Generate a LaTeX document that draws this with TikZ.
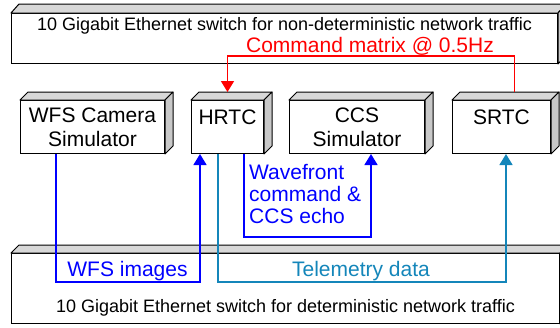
\documentclass[tikz,border=0pt]{standalone}
\usepackage{fontspec}
\setmainfont{Liberation Sans}
\usetikzlibrary{arrows.meta,calc}
\definecolor{tealline}{RGB}{20,134,186}
\definecolor{topgray}{RGB}{216,216,216}
\definecolor{sidegray}{RGB}{200,200,200}
\newcommand\boxdepth[3]{%
  \filldraw[fill=topgray, line width=1pt, line join=round] (#1.north west) -- ++(#2,-#3) -- ($(#1.north east)+(#2,-#3)$) -- (#1.north east) -- cycle;
  \filldraw[fill=sidegray, line width=1pt, line join=round] (#1.north east) -- ++(#2,-#3) -- ($(#1.south east)+(#2,-#3)$) -- (#1.south east) -- cycle;
}
\begin{document}
\begin{tikzpicture}[x=1pt,y=-1pt,
  box/.style={draw, fill=white, line width=1pt, inner sep=0pt, anchor=north west, font=\fontsize{21}{24}\selectfont, minimum height=53pt},
  switchbox/.style={draw, fill=white, line width=1pt, inner sep=0pt, anchor=north west, font=\fontsize{18}{21}\selectfont},
  conn/.style={line width=1.5pt, arrows={-Triangle[width=13pt,length=11pt]}},
  plainconn/.style={line width=1.5pt},
  lbl/.style={font=\fontsize{21}{22}\selectfont, inner sep=0pt}]
\useasboundingbox (0,0) rectangle (560,327);
% switches
\node[switchbox, minimum width=546pt, minimum height=50pt, text height=17pt, text depth=33pt] (sw1) at (11,13) {10 Gigabit Ethernet switch for non-deterministic network traffic};
\boxdepth{sw1}{8}{9}
\node[switchbox, minimum width=548pt, minimum height=70pt, text height=59pt, text depth=11pt] (sw2) at (11,253) {10 Gigabit Ethernet switch for deterministic network traffic};
\boxdepth{sw2}{8}{8}
% devices
\node[box, align=center, minimum width=144pt] (wfs) at (20,100) {WFS Camera\\Simulator};
\boxdepth{wfs}{8}{8}
\node[box, minimum width=72pt, text height=24pt, text depth=29pt] (hrtc) at (191,100) {HRTC};
\boxdepth{hrtc}{8}{8}
\node[box, align=center, minimum width=135pt] (ccs) at (289,100) {CCS\\Simulator};
\boxdepth{ccs}{8}{8}
\node[box, minimum width=98pt, text height=24pt, text depth=29pt] (srtc) at (452,100) {SRTC};
\boxdepth{srtc}{8}{8}
% connectors
\draw[conn, red] ($(srtc.north)+(13,-8)$) -- ($(srtc.north)+(13,-44)$) -| ($(hrtc.north)+(0,-8)$);
\draw[conn, blue] ($(wfs.south west)+(36,0)$) -- ++(0,128) -| ($(hrtc.south west)+(9,0)$);
\draw[conn, tealline] ($(hrtc.south west)+(27,0)$) -- ++(0,128) -| ($(srtc.south west)+(54,0)$);
\draw[conn, blue] ($(hrtc.south west)+(53,0)$) -- ++(0,83) -| ($(ccs.south west)+(82,0)$);
% labels
\node[lbl, red, anchor=base] (cmd) at (370,52) {Command matrix @ 0.5Hz};
\node[lbl, blue, anchor=base] (wfsimg) at (127.5,276) {WFS images};
\node[lbl, tealline, anchor=base] (tele) at (361,276) {Telemetry data};
\node[lbl, blue, anchor=north west, align=left] (wave) at (249,164) {Wavefront\\command \&\\CCS echo};
\end{tikzpicture}
\end{document}
